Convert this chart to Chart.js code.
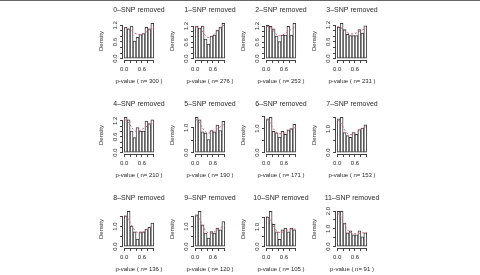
<!DOCTYPE html>
<html>
<head>
<meta charset="utf-8">
<script src="https://cdn.jsdelivr.net/npm/chart.js@4.4.1/dist/chart.umd.min.js"></script>
<style>
  body { margin: 0; background: #fff; }
  #wrap { position: relative; width: 480px; height: 275px; overflow: hidden; background: #fff; }
  #wrap canvas { position: absolute; }
  #topline { position: absolute; left: 0; top: 0; width: 480px; height: 1px; background: #666; }
</style>
</head>
<body>
<div id="wrap"><div id="topline"></div></div>
<script>
// number of SNPs removed and sample size for each panel
const removed = [0, 1, 2, 3, 4, 5, 6, 7, 8, 9, 10, 11];
const nValues = [300, 276, 253, 231, 210, 190, 171, 153, 136, 120, 105, 91];

// histogram densities, 10 bins of width 0.1
const density0  = [1.13, 1.07, 1.17, 0.63, 0.77, 0.87, 0.90, 1.13, 1.07, 1.27];
const density1  = [1.20, 1.13, 1.20, 0.72, 0.54, 0.83, 0.87, 1.05, 1.16, 1.30];
const density2  = [1.23, 1.19, 1.10, 0.83, 0.63, 0.87, 0.87, 1.19, 0.87, 1.30];
const density3  = [1.13, 1.26, 1.04, 0.87, 0.82, 0.82, 0.82, 1.04, 0.91, 1.17];
const density4  = [1.33, 1.24, 0.81, 0.57, 0.95, 0.81, 0.81, 1.19, 1.10, 1.24];
const density5  = [1.42, 1.32, 0.84, 0.79, 0.53, 0.89, 0.84, 1.11, 0.89, 1.26];
const density6  = [1.40, 1.46, 0.88, 0.82, 0.64, 0.88, 0.76, 0.94, 1.00, 1.17];
const density7  = [1.44, 1.50, 0.85, 0.72, 0.65, 0.85, 0.78, 0.98, 1.05, 1.18];
const density8  = [1.54, 1.76, 1.03, 0.74, 0.37, 0.74, 0.74, 0.88, 0.96, 1.18];
const density9  = [1.58, 1.75, 1.08, 0.67, 0.42, 0.75, 0.67, 0.92, 0.83, 1.25];
const density10 = [1.52, 1.81, 1.14, 0.76, 0.38, 0.86, 0.95, 0.76, 0.95, 0.86];
const density11 = [1.98, 1.98, 1.32, 0.77, 0.88, 0.66, 0.66, 0.88, 0.55, 0.77];

// red dashed smooth density, read at p = 0, 0.1, ..., 1.0
const curve0  = [1.12, 1.10, 1.04, 0.96, 0.90, 0.87, 0.88, 0.93, 1.00, 1.07, 1.12];
const curve1  = [1.18, 1.15, 1.06, 0.92, 0.80, 0.78, 0.85, 0.96, 1.08, 1.18, 1.25];
const curve2  = [1.20, 1.17, 1.08, 0.95, 0.86, 0.85, 0.90, 0.98, 1.05, 1.12, 1.18];
const curve3  = [1.15, 1.12, 1.05, 0.96, 0.90, 0.88, 0.90, 0.95, 1.00, 1.05, 1.10];
const curve4  = [1.25, 1.20, 1.05, 0.88, 0.80, 0.82, 0.88, 0.95, 1.02, 1.08, 1.12];
const curve5  = [1.35, 1.28, 1.10, 0.90, 0.80, 0.80, 0.85, 0.92, 1.00, 1.08, 1.15];
const curve6  = [1.38, 1.30, 1.08, 0.90, 0.80, 0.78, 0.80, 0.86, 0.93, 1.00, 1.05];
const curve7  = [1.40, 1.30, 1.08, 0.88, 0.78, 0.77, 0.82, 0.90, 0.98, 1.06, 1.12];
const curve8  = [1.55, 1.45, 1.20, 0.95, 0.75, 0.68, 0.70, 0.78, 0.88, 0.98, 1.05];
const curve9  = [1.55, 1.45, 1.20, 0.92, 0.72, 0.66, 0.70, 0.78, 0.88, 0.98, 1.05];
const curve10 = [1.55, 1.45, 1.20, 0.92, 0.75, 0.72, 0.78, 0.84, 0.88, 0.90, 0.90];
const curve11 = [1.90, 1.75, 1.40, 1.05, 0.85, 0.75, 0.72, 0.74, 0.76, 0.78, 0.80];

const binMids = [0.05, 0.15, 0.25, 0.35, 0.45, 0.55, 0.65, 0.75, 0.85, 0.95];
const curveX = [0, 0.1, 0.2, 0.3, 0.4, 0.5, 0.6, 0.7, 0.8, 0.9, 1.0];

// tick marks and the labels R keeps (overlapping ones are dropped)
const xTicks = [0, 0.2, 0.4, 0.6, 0.8, 1.0];
const xTickLabels = ['0.0', '0.6'];
const yTicksSmall = [0, 0.2, 0.4, 0.6, 0.8, 1.0, 1.2];
const yLabelsSmall = ['0.0', '0.6', '1.2'];
const yTicksLarge = [0, 0.5, 1.0, 1.5, 2.0];
const yLabelsLarge = ['0.0', '1.0', '2.0'];

const densities = [density0, density1, density2, density3, density4, density5,
                   density6, density7, density8, density9, density10, density11];
const curves = [curve0, curve1, curve2, curve3, curve4, curve5,
                curve6, curve7, curve8, curve9, curve10, curve11];

const FONT = "'Liberation Sans', Arial, sans-serif";
const TEXT = '#2a2a2a';
const AXIS = '#444';
const PLOT_W = 32, SIDE = 36, CANVAS_H = 93;
const firstPlotLeft = 123, colStep = 71, rowStep = 94;

Chart.defaults.font.family = FONT;

function pickLabel(v, list) {
    const s = Number(v).toFixed(1);
    return list.indexOf(s) >= 0 ? s : '';
}

// R style axis lines: only from first to last tick
const rAxes = {
    id: 'rAxes',
    afterDraw: function(chart) {
        const ctx = chart.ctx, xs = chart.scales.x, ys = chart.scales.y;
        const xt = xs.ticks, yt = ys.ticks;
        const bottom = Math.round(chart.chartArea.bottom) + 0.5;
        const left = Math.round(chart.chartArea.left) - 0.5;
        ctx.save();
        ctx.strokeStyle = AXIS;
        ctx.lineWidth = 1;
        ctx.beginPath();
        ctx.moveTo(xs.getPixelForValue(xt[0].value), bottom);
        ctx.lineTo(xs.getPixelForValue(xt[xt.length - 1].value), bottom);
        ctx.moveTo(left, ys.getPixelForValue(yt[0].value));
        ctx.lineTo(left, ys.getPixelForValue(yt[yt.length - 1].value));
        ctx.stroke();
        ctx.restore();
    }
};

const wrap = document.getElementById('wrap');

densities.forEach(function(dens, i) {
    const col = i % 4, row = Math.floor(i / 4);
    const canvas = document.createElement('canvas');
    canvas.width = SIDE * 2 + PLOT_W;
    canvas.height = CANVAS_H;
    canvas.style.left = (firstPlotLeft + col * colStep - SIDE) + 'px';
    canvas.style.top = (row * rowStep) + 'px';
    wrap.appendChild(canvas);

    const ymax = Math.max.apply(null, dens);
    const big = ymax > 1.4;
    const yTicks = (big ? yTicksLarge : yTicksSmall).filter(function(v) { return v <= ymax * 1.04; });
    const yLabels = big ? yLabelsLarge : yLabelsSmall;

    new Chart(canvas, {
        type: 'bar',
        data: {
            datasets: [{
                type: 'bar',
                data: binMids.map(function(x, k) { return {x: x, y: dens[k]}; }),
                backgroundColor: '#fff',
                borderColor: '#3a3a3a',
                borderWidth: 1,
                borderSkipped: false,
                barPercentage: 1,
                categoryPercentage: 1,
                order: 2
            }, {
                type: 'line',
                data: curveX.map(function(x, k) { return {x: x, y: curves[i][k]}; }),
                borderColor: 'rgb(214, 90, 120)',
                borderWidth: 1,
                borderDash: [2, 2],
                pointRadius: 0,
                tension: 0.4,
                fill: false,
                order: 1
            }]
        },
        options: {
            responsive: false,
            animation: false,
            layout: { padding: 0 },
            plugins: {
                legend: { display: false },
                tooltip: { enabled: false },
                title: {
                    display: true,
                    text: removed[i] + '–SNP removed',
                    color: TEXT,
                    font: { size: 7, weight: 'normal' },
                    padding: { top: 5.8, bottom: 7.8 }
                },
                subtitle: {
                    display: true,
                    position: 'bottom',
                    text: 'p-value ( n= ' + nValues[i] + ' )',
                    color: TEXT,
                    font: { size: 6 },
                    padding: { top: 4.4, bottom: 8.4 }
                }
            },
            scales: {
                x: {
                    type: 'linear',
                    min: -0.04,
                    max: 1.04,
                    offset: false,
                    afterBuildTicks: function(s) { s.ticks = xTicks.map(function(v) { return {value: v}; }); },
                    afterFit: function(s) { s.height = 13; },
                    ticks: {
                        autoSkip: false, maxRotation: 0, padding: 3,
                        color: TEXT, font: { size: 6 },
                        callback: function(v) { return pickLabel(v, xTickLabels); }
                    },
                    grid: { drawOnChartArea: false, offset: false, tickLength: 3, color: AXIS },
                    border: { display: false }
                },
                y: {
                    type: 'linear',
                    min: -0.04 * ymax,
                    max: 1.04 * ymax,
                    afterBuildTicks: function(s) { s.ticks = yTicks.map(function(v) { return {value: v}; }); },
                    afterFit: function(s) { s.width = SIDE; },
                    ticks: {
                        autoSkip: false, minRotation: 90, maxRotation: 90,
                        crossAlign: 'center', padding: 0,
                        color: TEXT, font: { size: 6 },
                        callback: function(v) { return pickLabel(v, yLabels); }
                    },
                    grid: { drawOnChartArea: false, tickLength: 3, color: AXIS },
                    border: { display: false },
                    title: {
                        display: true, text: 'Density', color: TEXT,
                        font: { size: 6 }, padding: { top: 10.4, bottom: 0 }
                    }
                },
                yr: {
                    position: 'right',
                    afterFit: function(s) { s.width = SIDE; },
                    ticks: { display: false },
                    grid: { display: false },
                    border: { display: false }
                }
            }
        },
        plugins: [rAxes]
    });
});
</script>
</body>
</html>
